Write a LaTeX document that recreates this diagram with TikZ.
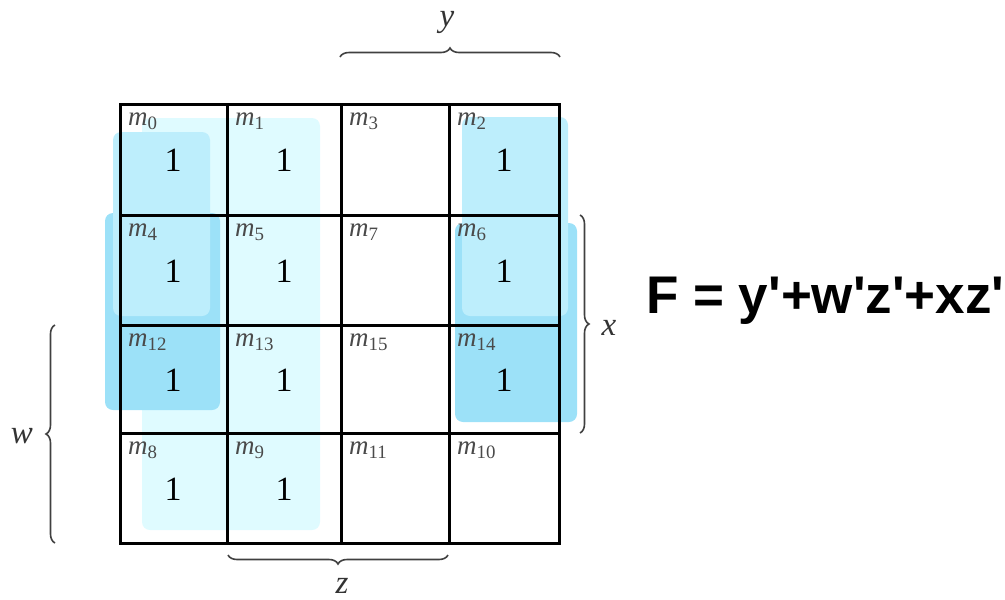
\documentclass[tikz,border=0pt]{standalone}
\usepackage{fontspec}
\setmainfont{Liberation Serif}
\newfontfamily\formulafont{Liberation Sans}[Ligatures=TeXOff]
\usetikzlibrary{decorations.pathreplacing}
\definecolor{ycyan}{HTML}{DFFBFF}
\definecolor{wzblue}{HTML}{BDEEFC}
\definecolor{xzblue}{HTML}{9CE1F8}
\definecolor{mgrey}{HTML}{4A4A4A}

\begin{document}
\begin{tikzpicture}[x=1pt, y=-1pt, every node/.style={inner sep=0pt},
	minterm/.style={text=mgrey, anchor=north west, font=\fontsize{27}{27}\selectfont},
	one/.style={font=\fontsize{34}{34}\selectfont},
	kbrace/.style={decorate, decoration={brace, amplitude=9pt}, draw=black!75, line width=1.6pt},
	varname/.style={text=black!80, font=\itshape\fontsize{33}{33}\selectfont}]
	\useasboundingbox (0,0) rectangle (1005,600);
	% groups: y' (light), x z' and w' z' (darker)
	\fill[ycyan, rounded corners=8pt] (142,118) rectangle (320,530);
	\fill[xzblue, rounded corners=8pt] (105,213) rectangle (220,410);
	\fill[xzblue, rounded corners=8pt] (455,223) rectangle (577,422);
	\fill[wzblue, rounded corners=8pt] (113,132) rectangle (210,316);
	\fill[wzblue, rounded corners=8pt] (462,117) rectangle (568,316);
	% map grid
	\draw[line width=3pt] (120,104) rectangle (559,543);
	\draw[line width=3pt] (227,104) -- (227,543) (341,104) -- (341,543) (449,104) -- (449,543);
	\draw[line width=3pt] (120,215) -- (559,215) (120,325) -- (559,325) (120,433) -- (559,433);
	% minterm labels
	\foreach \lx/\ty/\idx in {120/104/0, 227/104/1, 341/104/3, 449/104/2,
		120/215/4, 227/215/5, 341/215/7, 449/215/6,
		120/325/12, 227/325/13, 341/325/15, 449/325/14,
		120/433/8, 227/433/9, 341/433/11, 449/433/10}
		\node[minterm] (m\idx) at (\lx+8,\ty+9) {\textit{m}\textsubscript{\idx}};
	\foreach \cx/\cy/\idx in {173/160/0, 284/160/1, 504/160/2,
		173/271/4, 284/271/5, 504/271/6,
		173/380/12, 284/380/13, 504/380/14,
		173/489/8, 284/489/9}
		\node[one] (one\idx) at (\cx,\cy) {1};
	% variable braces
	\coordinate (ya) at (340,57); \coordinate (yb) at (560,57);
	\coordinate (za) at (448,555); \coordinate (zb) at (228,555);
	\coordinate (xa) at (580,215); \coordinate (xb) at (580,433);
	\coordinate (wa) at (55,543); \coordinate (wb) at (55,325);
	\draw[kbrace] (ya) -- (yb);
	\draw[kbrace] (za) -- (zb);
	\draw[kbrace] (xa) -- (xb);
	\draw[kbrace] (wa) -- (wb);
	\node[varname] (ylab) at (447,22) {y};
	\node[varname] (zlab) at (342,586) {z};
	\node[varname] (xlab) at (609,328) {x};
	\node[varname] (wlab) at (22,436) {w};
	% simplified function
	\node[anchor=base west, font=\formulafont\bfseries\fontsize{53}{53}\selectfont] (func) at (646,313) {F = y'+w'z'+xz'};
\end{tikzpicture}
\end{document}
